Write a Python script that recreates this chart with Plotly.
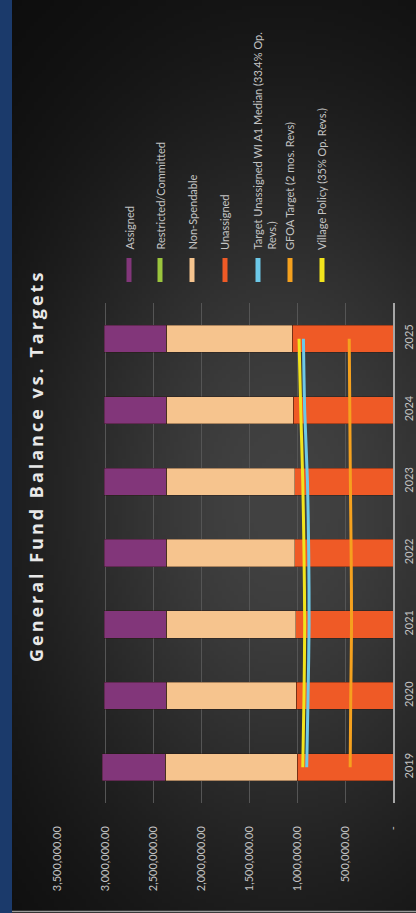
import base64, struct, zlib, math
import plotly.graph_objects as go

# ---------------- data ----------------
years = ["2019", "2020", "2021", "2022", "2023", "2024", "2025"]
unassigned = [996000, 1006000, 1014000, 1021000, 1024000, 1038000, 1048000]
non_spendable = [1374000, 1354000, 1346000, 1339000, 1336000, 1322000, 1312000]
restricted = [0, 0, 0, 0, 0, 0, 0]
assigned = [660000, 650000, 650000, 650000, 650000, 650000, 650000]
target_median = [899000, 885000, 874000, 878000, 891000, 920000, 933000]
gfoa_target = [446000, 440000, 432000, 436000, 444000, 450000, 456000]
village_policy = [940000, 927000, 920000, 927000, 940000, 961000, 979000]

value_ticks = [0, 500000, 1000000, 1500000, 2000000, 2500000, 3000000, 3500000]
value_tick_text = ["-", "500,000.00", "1,000,000.00", "1,500,000.00", "2,000,000.00",
                   "2,500,000.00", "3,000,000.00", "3,500,000.00"]

title_text = "General Fund Balance vs. Targets"
legend_names = ["Assigned", "Restricted/Committed", "Non-Spendable", "Unassigned",
                "Target Unassigned WI A1 Median (33.4% Op. Revs.)",
                "GFOA Target (2 mos. Revs)", "Village Policy (35% Op. Revs.)"]
legend_colors = ["#82367a", "#9bc53d", "#f6c48e", "#ef5a26", "#6cc8e8", "#f5a11e", "#f2e41c"]

# ---------------- geometry (pixels) ----------------
W, H = 416, 913
L, R, T, B = 57, 393, 303, 803
PW, PH = R - L, B - T


def px(x):
    return (x - L) / PW


def py(y):
    return (B - y) / PH


# ---------------- background image (radial dark gradient) ----------------
def make_png(w, h):
    rows = []
    cx, cy, rx, ry = 280 / 4, 500 / 4, 320 / 4, 480 / 4
    for j in range(h):
        row = bytearray([0])
        for i in range(w):
            d2 = ((i - cx) / rx) ** 2 + ((j - cy) / ry) ** 2
            v = int(10 + 56 * math.exp(-1.5 * d2))
            row += bytes([v, v, v])
        rows.append(bytes(row))
    raw = b"".join(rows)

    def chunk(t, d):
        c = struct.pack(">I", len(d)) + t + d
        return c + struct.pack(">I", zlib.crc32(t + d) & 0xffffffff)

    png = b"\x89PNG\r\n\x1a\n"
    png += chunk(b"IHDR", struct.pack(">IIBBBBB", w, h, 8, 2, 0, 0, 0))
    png += chunk(b"IDAT", zlib.compress(raw, 9))
    png += chunk(b"IEND", b"")
    return "data:image/png;base64," + base64.b64encode(png).decode()


bg = make_png(104, 228)

fig = go.Figure()

bar_series = [
    ("Unassigned", unassigned, legend_colors[3]),
    ("Non-Spendable", non_spendable, legend_colors[2]),
    ("Restricted/Committed", restricted, legend_colors[1]),
    ("Assigned", assigned, legend_colors[0]),
]
for name, vals, col in bar_series:
    fig.add_trace(go.Bar(y=years, x=vals, name=name, orientation="h",
                         marker=dict(color=col, line=dict(width=0.6, color="rgba(40,20,10,0.6)")),
                         showlegend=False))

line_series = [
    ("GFOA Target (2 mos. Revs)", gfoa_target, legend_colors[5]),
    ("Target Unassigned WI A1 Median (33.4% Op. Revs.)", target_median, legend_colors[4]),
    ("Village Policy (35% Op. Revs.)", village_policy, legend_colors[6]),
]
for name, vals, col in line_series:
    fig.add_trace(go.Scatter(y=years, x=vals, name=name, mode="lines",
                             line=dict(color=col, width=3, shape="spline", smoothing=0.8),
                             showlegend=False))

spaced_title = "\u2009".join(list(title_text))
annotations = [dict(text="<b>" + spaced_title + "</b>", x=px(36), y=py(468),
                    xref="paper", yref="paper",
                    textangle=-90, showarrow=False, xanchor="center", yanchor="middle",
                    font=dict(family="Open Sans", size=18, color="#e8e8e8"))]

shapes = []
marker_x = [129, 160, 192, 225, 258, 290, 322]
for name, col, mx in zip(legend_names, legend_colors, marker_x):
    txt = name
    cx = mx
    if len(name) > 35:
        k = name.rfind(" ")
        txt = name[:k] + "<br>" + name[k + 1:]
        cx = mx + 6
    annotations.append(dict(text=txt, x=px(cx), y=py(252), xref="paper", yref="paper",
                            textangle=-90, showarrow=False, xanchor="center", yanchor="bottom",
                            align="left",
                            font=dict(family="Lato", size=11, color="#c4c4c4")))
    shapes.append(dict(type="line", xref="paper", yref="paper",
                       x0=px(mx), x1=px(mx), y0=py(258), y1=py(282),
                       line=dict(color=col, width=5), layer="above"))

# left blue strip and frame line
shapes.append(dict(type="rect", xref="paper", yref="paper", x0=px(0), x1=px(12),
                   y0=py(0), y1=py(H), fillcolor="#1b3a6b", line=dict(width=0), layer="above"))
shapes.append(dict(type="line", xref="paper", yref="paper", x0=px(12), x1=px(W),
                   y0=py(911.5), y1=py(911.5), line=dict(color="#9a9a9a", width=1.5), layer="above"))

fig.update_layout(
    width=W, height=H,
    margin=dict(l=L, r=W - R, t=T, b=H - B, pad=0),
    paper_bgcolor="#1a1a1a", plot_bgcolor="rgba(0,0,0,0)",
    barmode="stack", bargap=0.62,
    showlegend=False,
    annotations=annotations, shapes=shapes,
    images=[dict(source=bg, xref="paper", yref="paper", x=px(0), y=py(0),
                 sizex=W / PW, sizey=H / PH, xanchor="left", yanchor="top",
                 sizing="stretch", layer="below")],
    xaxis=dict(range=[3500000, 0], tickvals=value_ticks, ticktext=value_tick_text,
               tickangle=-90, showgrid=True, gridcolor="#555555", gridwidth=1,
               zeroline=False, showline=False, ticks="", ticklabelstandoff=20,
               tickfont=dict(family="Lato", size=11, color="#c4c4c4"), automargin=False),
    yaxis=dict(side="right", tickangle=-90, showgrid=False, zeroline=False,
               showline=True, linecolor="#a6a6a6", linewidth=1.5, ticks="",
               ticklabelstandoff=5, range=[-0.5, 6.5],
               tickfont=dict(family="Lato", size=11, color="#c4c4c4"), automargin=False),
    font=dict(family="Lato"),
)

fig.write_html("out.html")
